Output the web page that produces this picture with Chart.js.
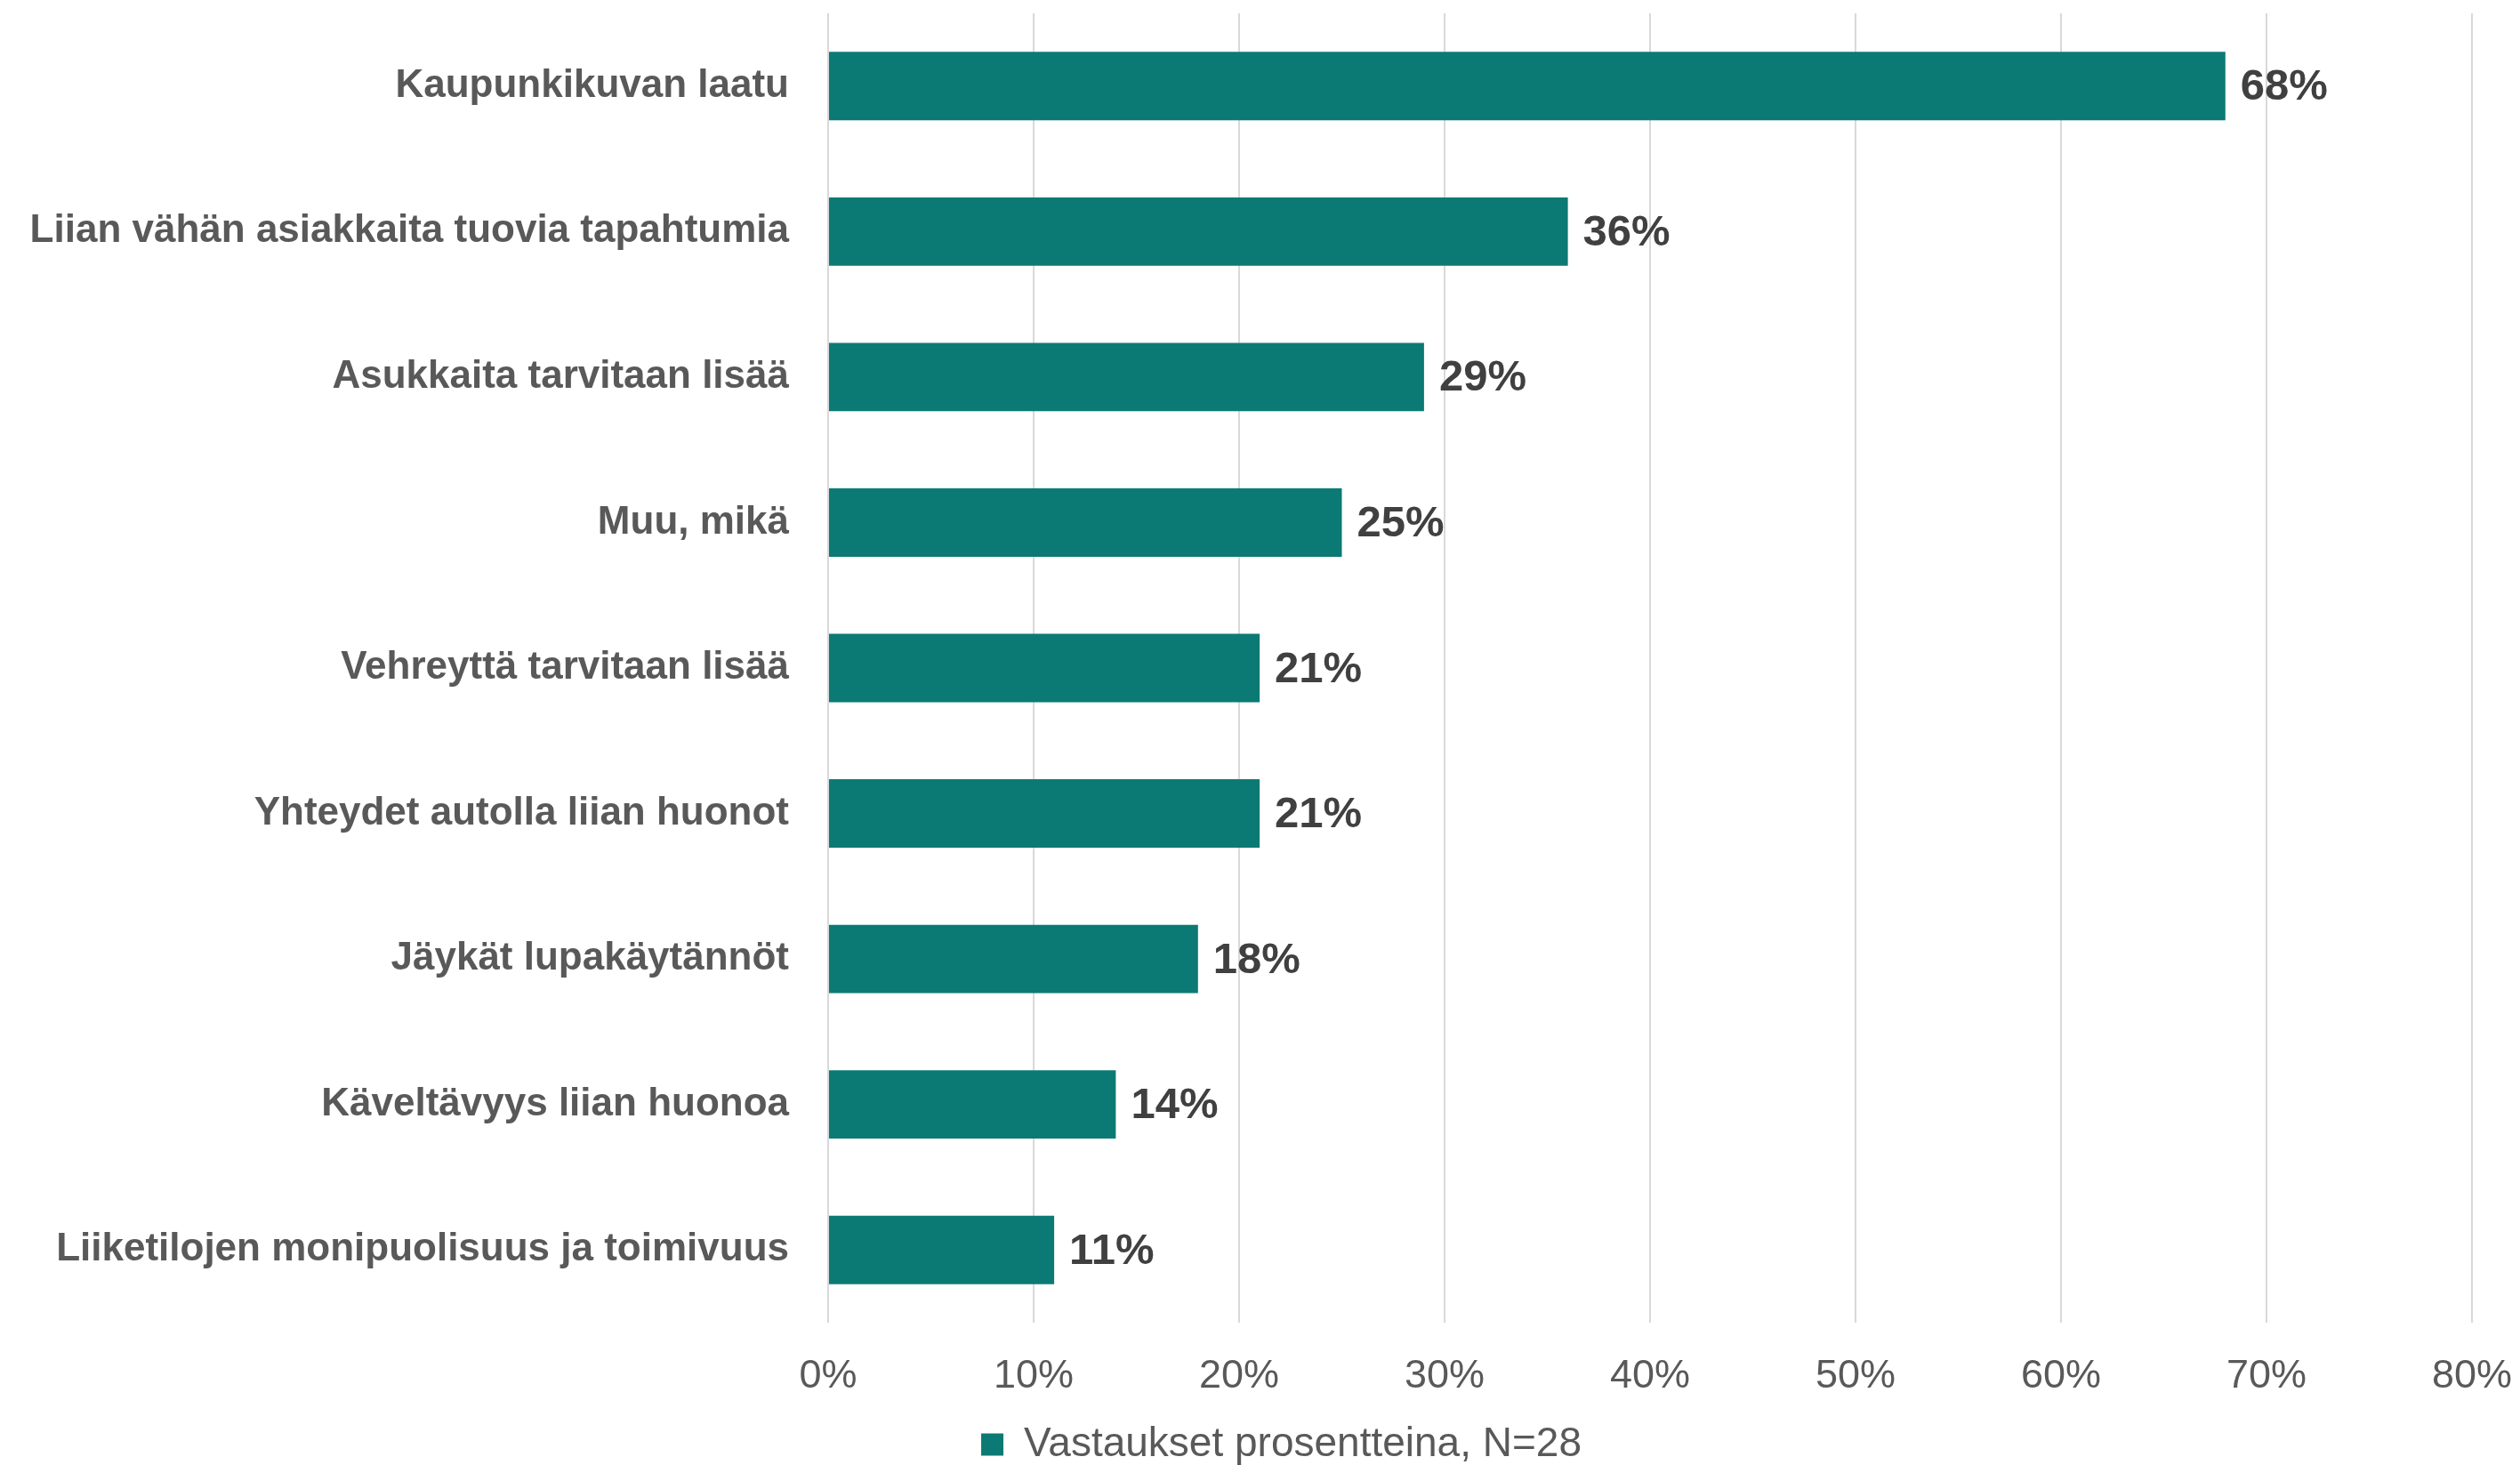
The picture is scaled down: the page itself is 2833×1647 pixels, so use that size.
<!DOCTYPE html>
<html>
<head>
<meta charset="utf-8">
<script src="https://cdn.jsdelivr.net/npm/chart.js@4.4.1/dist/chart.umd.min.js"></script>
<style>
  body { margin: 0; background: #fff; }
  #wrap { width: 2833px; height: 1647px; }
</style>
</head>
<body>
<div id="wrap"><canvas id="mycanvas" width="2833" height="1647"></canvas></div>
<script>
var categories = [
  "Kaupunkikuvan laatu",
  "Liian vähän asiakkaita tuovia tapahtumia",
  "Asukkaita tarvitaan lisää",
  "Muu, mikä",
  "Vehreyttä tarvitaan lisää",
  "Yhteydet autolla liian huonot",
  "Jäykät lupakäytännöt",
  "Käveltävyys liian huonoa",
  "Liiketilojen monipuolisuus ja toimivuus"
];
var percents = [68, 36, 29, 25, 21, 21, 18, 14, 11];
var seriesName = "Vastaukset prosentteina, N=28";

// value labels at the end of each bar
var barLabels = {
  id: 'barLabels',
  afterDatasetsDraw: function(chart) {
    var ctx = chart.ctx;
    var meta = chart.getDatasetMeta(0);
    ctx.save();
    ctx.font = 'bold 49px "Liberation Sans", Arial, sans-serif';
    ctx.fillStyle = '#404040';
    ctx.textAlign = 'left';
    ctx.textBaseline = 'middle';
    meta.data.forEach(function(bar, i) {
      ctx.fillText(percents[i] + '%', bar.x + 17, bar.y + 2);
    });
    ctx.restore();
  }
};

// nudge the legend to where the original sits
var legendShift = {
  id: 'legendShift',
  afterLayout: function(chart) {
    var lg = chart.legend;
    lg.left += 51; lg.right += 51;
    lg.top += 10; lg.bottom += 10;
  }
};

var ctx = document.getElementById('mycanvas');

var HBar = new Chart(ctx, {
  type: 'bar',
  data: {
    labels: categories,
    datasets: [{
      label: seriesName,
      data: percents,
      backgroundColor: '#0b7a74',
      borderWidth: 0,
      barPercentage: 1,
      categoryPercentage: 0.47
    }]
  },
  options: {
    indexAxis: 'y',
    responsive: false,
    animation: false,
    layout: { padding: { top: 15, left: 0, right: 54, bottom: 0 } },
    scales: {
      x: {
        min: 0,
        max: 80,
        grid: { color: '#d9d9d9', lineWidth: 2, drawTicks: false },
        border: { display: false },
        ticks: {
          stepSize: 10,
          padding: 34,
          color: '#595959',
          font: { family: '"Liberation Sans", Arial, sans-serif', size: 45 },
          callback: function(v) { return v + '%'; }
        },
        afterFit: function(scale) {
          scale.height = 100;
          scale.paddingLeft = 0;
          scale.paddingRight = 0;
        }
      },
      y: {
        grid: { display: false, drawTicks: false },
        border: { display: false },
        ticks: {
          padding: 44,
          color: '#595959',
          font: { family: '"Liberation Sans", Arial, sans-serif', size: 44, weight: 'bold' }
        },
        afterFit: function(scale) {
          scale.width = 931;
          scale.paddingTop = 0;
          scale.paddingBottom = 0;
        }
      }
    },
    plugins: {
      legend: {
        position: 'bottom',
        labels: {
          boxWidth: 25,
          boxHeight: 25,
          padding: 4,
          color: '#595959',
          font: { family: '"Liberation Sans", Arial, sans-serif', size: 46 }
        }
      },
      tooltip: { enabled: false }
    }
  },
  plugins: [barLabels, legendShift]
});
</script>
</body>
</html>
